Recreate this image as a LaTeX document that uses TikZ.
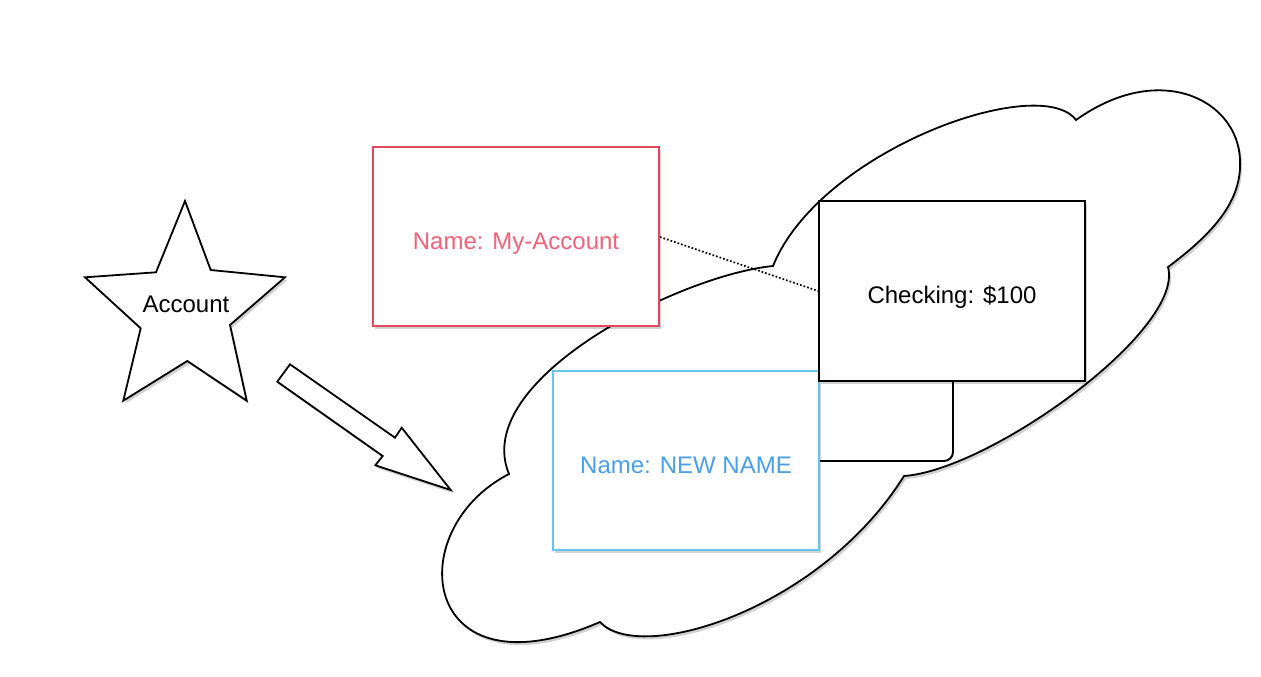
\documentclass[tikz,border=0pt]{standalone}
\usepackage{fontspec}
\setmainfont{Liberation Sans}
\usetikzlibrary{shadows}
\definecolor{redline}{HTML}{E2475D}
\definecolor{redtext}{HTML}{F0627A}
\definecolor{blueline}{HTML}{66C4EF}
\definecolor{bluetext}{HTML}{4A9FE8}
\tikzset{
  shade/.style={drop shadow={shadow xshift=2pt,shadow yshift=-3pt,opacity=0.18,fill=black}},
  outline/.style={draw=black,line width=1.8pt,line join=miter},
  box/.style={rectangle,fill=white,line width=2pt,inner sep=0pt,shade,text height=25pt,text depth=0pt,font=\fontsize{24}{28}\selectfont},
  lbl/.style={font=\fontsize{24}{28}\selectfont,inner sep=0pt},
  link/.style={draw=black,line width=1.9pt}
}
\begin{document}
\begin{tikzpicture}[x=1pt,y=-1pt]
\useasboundingbox (0,0) rectangle (1261,677);
% cloud
\coordinate (N1) at (1076,120);
\coordinate (N2) at (773,266);
\coordinate (N3) at (509,474);
\coordinate (N4) at (600,622);
\coordinate (N5) at (904,476);
\coordinate (N6) at (1168,267);
\coordinate (P) at (1240,160);
\path[outline,fill=white,shade] (N1) .. controls (1040,72) and (820,150) .. (N2)
  .. controls (680,275) and (470,380) .. (N3)
  .. controls (400,530) and (420,700) .. (N4)
  .. controls (640,665) and (820,610) .. (N5)
  .. controls (990,470) and (1185,330) .. (N6)
  .. controls (1215,232) and (1242,200) .. (P)
  .. controls (1238,100) and (1160,60) .. (N1) -- cycle;
% star
\path[outline,fill=white,shade] (185,201) -- (210.7,270) -- (285,277.3) -- (230,325) -- (246.7,400.7)
  -- (187.3,361) -- (123.3,400.7) -- (140.7,328.3) -- (85,277.3) -- (156,272.3) -- cycle;
\node[lbl] (acc) at (186,304) {Account};
% block arrow
\path[outline,fill=white,shade] (290,364.3) -- (395,437.7) -- (401.7,427.7) -- (450.7,490)
  -- (375.3,465.3) -- (382.7,456) -- (277.3,381.7) -- cycle;
% boxes
\node[box,draw=redline,text=redtext,minimum width=286pt,minimum height=179pt] (red) at (516,236.5) {Name: My-Account};
\node[box,draw=blueline,text=bluetext,minimum width=266pt,minimum height=179pt] (blue) at (686,460.5) {Name: NEW NAME};
\node[box,draw=black,text=black,minimum width=266pt,minimum height=180pt] (chk) at (952,291) {Checking: \$100};
% connectors
\draw[black,line width=1.7pt,dotted] (red.east |- 0,237) -- (chk.west |- 0,291);
\draw[link,rounded corners=9pt] (chk.south -| 953,0) -- (953,461) -- (blue.east |- 0,461);
\end{tikzpicture}
\end{document}
